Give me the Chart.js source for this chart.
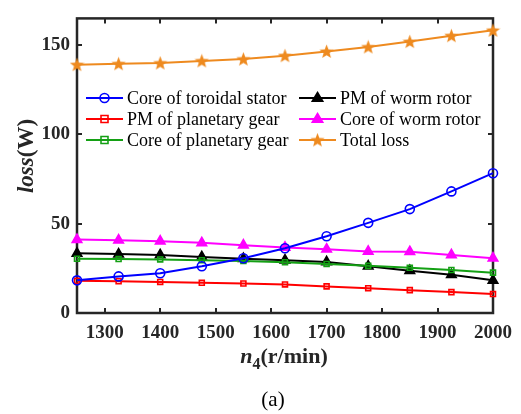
<!DOCTYPE html>
<html>
<head>
<meta charset="utf-8">
<script src="https://cdn.jsdelivr.net/npm/chart.js@4.4.0/dist/chart.umd.min.js"></script>
<style>
html, body { margin: 0; padding: 0; background: #fff; }
canvas { display: block; }
</style>
</head>
<body>
<canvas id="lossChart" width="521" height="414"></canvas>
<script>
// speed n4 (r/min)
const speeds = [1250, 1325, 1400, 1475, 1550, 1625, 1700, 1775, 1850, 1925, 2000];

// losses (W)
const coreToroidalStator = [18.3, 20.5, 22.3, 26.2, 30.7, 36.3, 43.0, 50.5, 58.2, 68.1, 78.3];
const pmPlanetaryGear    = [18.0, 17.8, 17.4, 16.9, 16.5, 16.0, 14.9, 13.9, 12.8, 11.7, 10.6];
const corePlanetaryGear  = [30.4, 30.2, 30.0, 29.6, 29.1, 28.4, 27.5, 26.4, 25.3, 24.1, 22.6];
const pmWormRotor        = [33.4, 33.0, 32.5, 31.4, 30.4, 29.6, 28.6, 26.2, 23.7, 21.4, 18.3];
const coreWormRotor      = [41.1, 40.8, 40.2, 39.3, 38.0, 36.7, 35.7, 34.5, 34.3, 32.5, 30.7];
const totalLoss          = [139.1, 139.6, 140.0, 141.2, 142.2, 144.1, 146.5, 149.0, 152.0, 155.3, 158.3];

const xTicks = [1300, 1400, 1500, 1600, 1700, 1800, 1900, 2000];
const yTicks = [0, 50, 100, 150];

const serif = "'Liberation Serif', 'Times New Roman', serif";
const axisColor = '#262626';
const orange = '#EE8A1F';

// filled star marker
function makeStar(size, color) {
    const c = document.createElement('canvas');
    c.width = size; c.height = size;
    const g = c.getContext('2d');
    const cx = size / 2, cy = size / 2 + 0.5, R = size / 2, r = R * 0.42;
    g.beginPath();
    for (let i = 0; i < 10; i++) {
        const rad = i % 2 === 0 ? R : r;
        const ang = -Math.PI / 2 + i * Math.PI / 5;
        g.lineTo(cx + rad * Math.cos(ang), cy + rad * Math.sin(ang));
    }
    g.closePath();
    g.fillStyle = color;
    g.fill();
    return c;
}
const starImg = makeStar(15, orange);

function series(label, values, color, style, radius, fill) {
    return {
        label: label,
        data: speeds.map((s, i) => ({ x: s, y: values[i] })),
        borderColor: color,
        backgroundColor: fill ? color : 'rgba(0,0,0,0)',
        borderWidth: 2,
        pointStyle: style,
        pointRadius: radius,
        pointBorderWidth: 1.6,
        pointBorderColor: color,
        pointBackgroundColor: fill ? color : 'rgba(0,0,0,0)',
        tension: 0,
        clip: false
    };
}

const datasets = [
    series('Core of toroidal stator', coreToroidalStator, '#0000FF', 'circle', 4.5, false),
    series('PM of planetary gear', pmPlanetaryGear, '#FF0000', 'rect', 3.5, false),
    series('Core of planetary gear', corePlanetaryGear, '#14A014', 'rect', 3.5, false),
    series('PM of worm rotor', pmWormRotor, '#000000', 'triangle', 5.5, true),
    series('Core of worm rotor', coreWormRotor, '#FF00FF', 'triangle', 5.5, true),
    series('Total loss', totalLoss, orange, starImg, 7, true)
];

function drawMarker(ctx, ds, x, y) {
    const r = ds.pointRadius;
    ctx.save();
    ctx.strokeStyle = ds.pointBorderColor;
    ctx.fillStyle = ds.pointBackgroundColor;
    ctx.lineWidth = ds.pointBorderWidth;
    ctx.beginPath();
    if (ds.pointStyle === 'circle') {
        ctx.arc(x, y, r, 0, Math.PI * 2);
        ctx.fill(); ctx.stroke();
    } else if (ds.pointStyle === 'rect') {
        ctx.rect(x - r, y - r, 2 * r, 2 * r);
        ctx.fill(); ctx.stroke();
    } else if (ds.pointStyle === 'triangle') {
        ctx.moveTo(x, y - r);
        ctx.lineTo(x + r * 0.95, y + r * 0.6);
        ctx.lineTo(x - r * 0.95, y + r * 0.6);
        ctx.closePath();
        ctx.fill(); ctx.stroke();
    } else {
        ctx.drawImage(ds.pointStyle, x - ds.pointStyle.width / 2, y - ds.pointStyle.height / 2);
    }
    ctx.restore();
}

const decorPlugin = {
    id: 'decor',
    beforeDatasetsDraw(chart) {
        const { ctx, chartArea: a, scales } = chart;
        ctx.save();
        ctx.strokeStyle = axisColor;
        ctx.lineWidth = 2.5;
        ctx.strokeRect(a.left, a.top, a.right - a.left, a.bottom - a.top);
        ctx.lineWidth = 2;
        const tl = 5;
        ctx.beginPath();
        xTicks.forEach(v => {
            const px = Math.round(scales.x.getPixelForValue(v));
            ctx.moveTo(px, a.bottom); ctx.lineTo(px, a.bottom - tl);
            ctx.moveTo(px, a.top); ctx.lineTo(px, a.top + tl);
        });
        yTicks.forEach(v => {
            const py = Math.round(scales.y.getPixelForValue(v));
            ctx.moveTo(a.left, py); ctx.lineTo(a.left + tl, py);
            ctx.moveTo(a.right, py); ctx.lineTo(a.right - tl, py);
        });
        ctx.stroke();
        ctx.restore();
    },
    afterDraw(chart) {
        const ctx = chart.ctx;
        ctx.save();

        // legend, two columns
        const cols = [86, 299];
        const rows = [98, 119, 140];
        const order = [[0, 0, 0], [1, 0, 1], [2, 0, 2], [3, 1, 0], [4, 1, 1], [5, 1, 2]];
        ctx.font = '18px ' + serif;
        ctx.textBaseline = 'middle';
        ctx.textAlign = 'left';
        order.forEach(([i, c, r]) => {
            const ds = chart.data.datasets[i];
            const x0 = cols[c], y0 = rows[r];
            ctx.strokeStyle = ds.borderColor;
            ctx.lineWidth = 2;
            ctx.beginPath();
            ctx.moveTo(x0, y0); ctx.lineTo(x0 + 37, y0);
            ctx.stroke();
            drawMarker(ctx, ds, x0 + 18.5, y0);
            ctx.fillStyle = '#000';
            ctx.fillText(ds.label, x0 + 41, y0 + 1);
        });

        // x title: n4(r/min)
        ctx.fillStyle = axisColor;
        ctx.textBaseline = 'alphabetic';
        const parts = [
            { t: 'n', f: 'italic bold 22px ' + serif, dy: 0 },
            { t: '4', f: 'bold 16px ' + serif, dy: 6 },
            { t: '(r/min)', f: 'bold 22px ' + serif, dy: 0 }
        ];
        let w = 0;
        parts.forEach(p => { ctx.font = p.f; p.w = ctx.measureText(p.t).width; w += p.w; });
        let x = 284 - w / 2;
        parts.forEach(p => { ctx.font = p.f; ctx.fillText(p.t, x, 363 + p.dy); x += p.w; });

        // y title: loss(W)
        ctx.save();
        ctx.translate(33, 156);
        ctx.rotate(-Math.PI / 2);
        const yp = [
            { t: 'loss', f: 'italic bold 23px ' + serif },
            { t: '(W)', f: 'bold 23px ' + serif }
        ];
        w = 0;
        yp.forEach(p => { ctx.font = p.f; p.w = ctx.measureText(p.t).width; w += p.w; });
        x = -w / 2;
        yp.forEach(p => { ctx.font = p.f; ctx.fillText(p.t, x, 0); x += p.w; });
        ctx.restore();

        // panel label
        ctx.font = '21px ' + serif;
        ctx.fillStyle = '#000';
        ctx.textAlign = 'center';
        ctx.fillText('(a)', 273, 406);
        ctx.restore();
    }
};

new Chart(document.getElementById('lossChart'), {
    type: 'line',
    data: { datasets: datasets },
    options: {
        responsive: false,
        animation: false,
        layout: { padding: { top: 7, right: 28, left: 0, bottom: 0 } },
        plugins: { legend: { display: false }, tooltip: { enabled: false } },
        scales: {
            x: {
                type: 'linear',
                min: 1250,
                max: 2000,
                afterBuildTicks: s => { s.ticks = xTicks.map(v => ({ value: v })); },
                afterFit: s => { s.height = 101; },
                grid: { display: false, drawTicks: false },
                border: { display: false },
                ticks: {
                    color: axisColor,
                    padding: 9,
                    maxRotation: 0,
                    callback: v => String(v),
                    font: { family: serif, size: 19, weight: 'bold' }
                }
            },
            y: {
                type: 'linear',
                min: 0,
                max: 165,
                afterBuildTicks: s => { s.ticks = yTicks.map(v => ({ value: v })); },
                afterFit: s => { s.width = 77; },
                grid: { display: false, drawTicks: false },
                border: { display: false },
                ticks: {
                    color: axisColor,
                    padding: 7,
                    callback: v => String(v),
                    font: { family: serif, size: 19, weight: 'bold' }
                }
            }
        }
    },
    plugins: [decorPlugin]
});
</script>
</body>
</html>
